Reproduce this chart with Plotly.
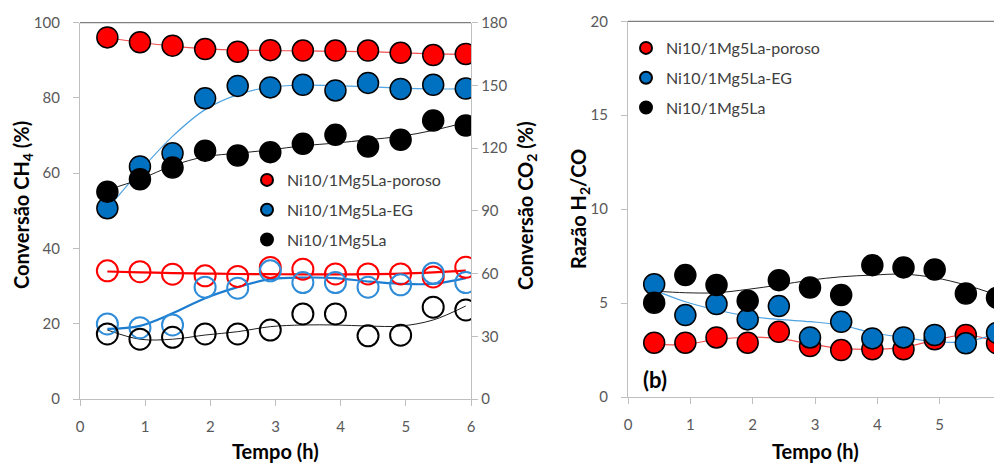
import plotly.graph_objects as go

# ---------------- data ----------------
tempo = [0.42, 0.92, 1.42, 1.92, 2.42, 2.92, 3.42, 3.92, 4.42, 4.92, 5.42, 5.92]
series = ["Ni10/1Mg5La-poroso", "Ni10/1Mg5La-EG", "Ni10/1Mg5La"]

# (a) CH4 conversion (%), left axis - filled markers
ch4_poroso = [96.1, 94.8, 93.9, 93.0, 92.3, 92.7, 92.6, 92.6, 92.6, 92.0, 91.4, 91.7]
ch4_eg = [50.7, 61.8, 65.3, 79.9, 83.2, 82.8, 83.5, 82.0, 84.0, 82.4, 83.5, 82.5]
ch4_la = [55.1, 58.4, 61.5, 66.0, 64.7, 65.6, 67.8, 70.2, 67.1, 68.9, 74.0, 72.7]

# (a) CO2 conversion (%), right axis - open markers
co2_poroso = [61.3, 60.9, 59.7, 58.9, 58.6, 62.9, 62.1, 59.8, 59.8, 59.8, 58.4, 63.0]
co2_eg = [35.9, 34.1, 35.4, 53.5, 53.0, 61.3, 55.7, 55.7, 53.5, 54.6, 60.2, 55.7]
co2_la = [31.1, 28.6, 29.5, 31.1, 31.1, 33.0, 40.7, 40.7, 30.2, 30.5, 43.9, 42.6]

# trend lines
ch4_poroso_trend = [96.0, 94.8, 93.8, 93.1, 92.7, 92.6, 92.5, 92.4, 92.3, 92.0, 91.7, 91.6]
ch4_eg_trend = [50.5, 60.6, 69.8, 76.9, 80.9, 82.9, 83.4, 83.3, 83.0, 82.6, 82.4, 82.4]
ch4_la_trend = [55.6, 58.4, 62.0, 64.4, 65.3, 66.2, 67.3, 68.0, 68.9, 69.8, 71.4, 73.5]
co2_poroso_trend = [61.0, 60.6, 60.2, 60.0, 59.8, 59.7, 59.6, 59.6, 59.7, 60.0, 60.6, 61.4]
co2_eg_trend = [33.5, 35.0, 41.0, 48.2, 53.5, 57.3, 58.1, 57.8, 56.2, 55.1, 55.1, 57.8]
co2_la_trend = [33.0, 28.6, 28.6, 30.6, 32.2, 34.6, 35.4, 35.4, 34.9, 34.9, 37.8, 44.5]

# (b) H2/CO ratio
h2co_poroso = [2.89, 2.89, 3.17, 2.89, 3.47, 2.71, 2.50, 2.54, 2.54, 3.07, 3.30, 2.86]
h2co_eg = [6.00, 4.36, 4.95, 4.13, 4.84, 3.17, 4.00, 3.12, 3.17, 3.30, 2.86, 3.42]
h2co_la = [5.02, 6.49, 5.96, 5.12, 6.22, 5.83, 5.43, 7.02, 6.90, 6.79, 5.51, 5.28]

h2co_poroso_trend = [2.80, 2.80, 3.07, 3.18, 3.12, 2.82, 2.59, 2.54, 2.64, 3.03, 3.30, 2.94]
h2co_eg_trend = [5.69, 5.07, 4.63, 4.31, 4.13, 4.01, 3.83, 3.42, 3.17, 2.94, 2.94, 3.39]
h2co_la_trend = [5.64, 5.55, 5.55, 5.73, 5.96, 6.22, 6.40, 6.49, 6.54, 6.35, 5.96, 5.43]

x_ticks = [0, 1, 2, 3, 4, 5, 6]

# ---------------- styles ----------------
RED, BLUE, BLACK = "#FF0000", "#0070C0", "#000000"
OPEN_BLUE = "#2F8CD8"
FONT = "Lato"
TICK_FONT = dict(family=FONT, size=15, color="#595959")
OFF = 8                      # page body margin
W, H = 1002 - OFF, 464 - OFF


def px(x):
    return (x - OFF) / W


def py(y):
    return 1 - (y - OFF) / H


fig = go.Figure()


def trend(x, y, color, width, xa, ya):
    fig.add_trace(go.Scatter(x=x, y=y, mode="lines",
                             line=dict(color=color, width=width, shape="spline", smoothing=1.0),
                             showlegend=False, hoverinfo="skip", xaxis=xa, yaxis=ya))


# panel (a) trend lines
trend(tempo, ch4_poroso_trend, "#F25050", 1.2, "x", "y")
trend(tempo, ch4_eg_trend, "#4FA3E0", 1.2, "x", "y")
trend(tempo, ch4_la_trend, "#202020", 1.0, "x", "y")
trend(tempo, co2_poroso_trend, RED, 2.2, "x", "y2")
trend(tempo, co2_eg_trend, "#1C7CD0", 2.2, "x", "y2")
trend(tempo, co2_la_trend, "#202020", 1.0, "x", "y2")

# panel (a) open markers (CO2)
for vals, col in [(co2_poroso, RED), (co2_eg, OPEN_BLUE), (co2_la, BLACK)]:
    fig.add_trace(go.Scatter(x=tempo, y=vals, mode="markers", xaxis="x", yaxis="y2", showlegend=False,
                             marker=dict(symbol="circle-open", size=21, color=col,
                                         line=dict(width=2, color=col))))

# panel (a) filled markers (CH4) with legend
for i, (vals, col) in enumerate([(ch4_poroso, RED), (ch4_eg, BLUE), (ch4_la, BLACK)]):
    fig.add_trace(go.Scatter(x=tempo, y=vals, mode="markers", xaxis="x", yaxis="y", name=series[i],
                             legend="legend", legendgroup="a%d" % i,
                             marker=dict(symbol="circle", size=21, color=col,
                                         line=dict(width=1.5, color="#000000"))))

# panel (b)
trend(tempo, h2co_poroso_trend, "#F25050", 1.2, "x2", "y3")
trend(tempo, h2co_eg_trend, "#4FA3E0", 1.2, "x2", "y3")
trend(tempo, h2co_la_trend, "#202020", 1.0, "x2", "y3")
for i, (vals, col) in enumerate([(h2co_poroso, RED), (h2co_eg, BLUE), (h2co_la, BLACK)]):
    fig.add_trace(go.Scatter(x=tempo, y=vals, mode="markers", xaxis="x2", yaxis="y3", name=series[i],
                             legend="legend2", legendgroup="b%d" % i,
                             marker=dict(symbol="circle", size=21, color=col,
                                         line=dict(width=1.5, color="#000000"))))

axis_common = dict(showgrid=False, zeroline=False, showline=True, linecolor="#BFBFBF", linewidth=1.3,
                   ticks="outside", ticklen=6, tickcolor="#BFBFBF", tickwidth=1.3, tickfont=TICK_FONT,
                   automargin=False)

ya_dom = [py(399), py(22.7)]
yb_dom = [py(397), py(21.3)]

legend_common = dict(xanchor="left", yanchor="top", bgcolor="rgba(0,0,0,0)",
                     font=dict(family=FONT, size=16, color="#404040"), itemsizing="constant",
                     tracegroupgap=6, traceorder="grouped")

fig.update_layout(
    width=W, height=H,
    margin=dict(l=0, r=0, t=0, b=0, autoexpand=False),
    paper_bgcolor="white", plot_bgcolor="white",
    font=dict(family=FONT, color="#404040"),
    xaxis=dict(domain=[px(80), px(471)], range=[0, 6], tickvals=x_ticks, anchor="y",
               ticklabelstandoff=8, **axis_common),
    yaxis=dict(domain=ya_dom, range=[0, 100], dtick=20, anchor="x", ticklabelstandoff=10, **axis_common),
    yaxis2=dict(overlaying="y", side="right", range=[0, 180], dtick=30, anchor="x",
                ticklabelstandoff=0, **axis_common),
    xaxis2=dict(domain=[px(628), 1.0], range=[0, 6], tickvals=x_ticks, anchor="y3",
                ticklabelstandoff=8, ticklabeloverflow="allow", **axis_common),
    yaxis3=dict(domain=yb_dom, range=[0, 20], dtick=5, anchor="x2", ticklabelstandoff=10, **axis_common),
    legend=dict(x=px(247), y=py(163), **legend_common),
    legend2=dict(x=px(626), y=py(31), **legend_common),
    showlegend=True,
)

# plot-area top borders
for xr, yr in [("x domain", "y domain"), ("x2 domain", "y3 domain")]:
    fig.add_shape(type="line", xref=xr, yref=yr, x0=0, x1=1, y0=1, y1=1,
                  line=dict(color="#7F7F7F", width=1.3))

title_font = dict(family=FONT, size=20, color="#000000")
annos = [
    dict(text="<b>Conversão CH<sub>4</sub> (%)</b>", x=px(22), y=py(205), textangle=-90),
    dict(text="<b>Conversão CO<sub>2</sub> (%)</b>", x=px(526), y=py(206), textangle=-90),
    dict(text="<b>Razão H<sub>2</sub>/CO</b>", x=px(579), y=py(209), textangle=-90),
    dict(text="<b>Tempo (h)</b>", x=px(275), y=py(451), textangle=0),
    dict(text="<b>Tempo (h)</b>", x=px(815), y=py(451), textangle=0),
]
for a in annos:
    fig.add_annotation(xref="paper", yref="paper", xanchor="center", yanchor="middle",
                       showarrow=False, font=title_font, **a)
fig.add_annotation(text="<b>(b)</b>", xref="paper", yref="paper", x=px(641), y=py(379),
                   xanchor="left", yanchor="middle", showarrow=False,
                   font=dict(family=FONT, size=22, color="#000000"))

fig.write_html("out.html")
